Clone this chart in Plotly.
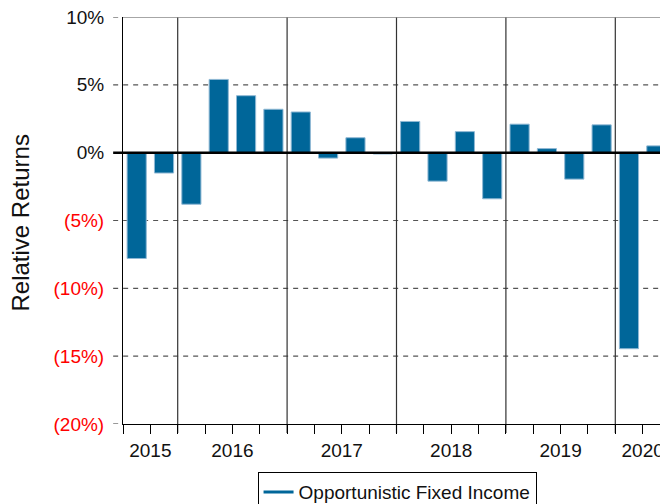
import plotly.graph_objects as go

quarters = ["2015Q3", "2015Q4",
            "2016Q1", "2016Q2", "2016Q3", "2016Q4",
            "2017Q1", "2017Q2", "2017Q3", "2017Q4",
            "2018Q1", "2018Q2", "2018Q3", "2018Q4",
            "2019Q1", "2019Q2", "2019Q3", "2019Q4",
            "2020Q1", "2020Q2"]
returns = [-7.8, -1.5,
           -3.8, 5.4, 4.2, 3.2,
           3.0, -0.4, 1.1, -0.1,
           2.3, -2.1, 1.55, -3.4,
           2.1, 0.3, -1.95, 2.05,
           -14.45, 0.5]
years = ["2015", "2016", "2017", "2018", "2019", "2020"]
ytick_vals = [10, 5, 0, -5, -10, -15, -20]
ytick_text = ["10%", "5%", "0%", "(5%)", "(10%)", "(15%)", "(20%)"]
series_name = "Opportunistic Fixed Income"

BAR = "#006699"
xs = list(range(len(quarters)))
year_of = [q[:4] for q in quarters]

# year centres and boundaries
year_centers, year_bounds = [], []
for y in years:
    idx = [i for i, yy in enumerate(year_of) if yy == y]
    year_centers.append((idx[0] + idx[-1]) / 2)
    if idx[0] > 0:
        year_bounds.append(idx[0] - 0.5)

fig = go.Figure()
fig.add_trace(go.Bar(
    x=xs, y=returns, width=0.7,
    marker=dict(color=BAR, line=dict(color="#8fb8d4", width=1)),
    showlegend=False, name=series_name,
))
fig.add_trace(go.Scatter(
    x=[None], y=[None], mode="lines",
    line=dict(color=BAR, width=3), name=series_name, showlegend=True,
))

shapes = []
# dashed gridlines (extending left as tick marks)
for v in ytick_vals:
    if v in (0, 10, -20):
        continue
    shapes.append(dict(type="line", xref="paper", yref="y", x0=-0.018, x1=1,
                       y0=v, y1=v, line=dict(color="#555555", width=1.2, dash="5px,5px"),
                       layer="below"))
# short dashed ticks at top and bottom
for v in (10, -20):
    shapes.append(dict(type="line", xref="paper", yref="y", x0=-0.018, x1=0,
                       y0=v, y1=v, line=dict(color="#555555", width=1.2, dash="5px,5px")))
# top frame line
shapes.append(dict(type="line", xref="paper", yref="y", x0=0, x1=1, y0=10, y1=10,
                   line=dict(color="#888888", width=1.5)))
# year separators
for b in year_bounds:
    shapes.append(dict(type="line", xref="x", yref="paper", x0=b, x1=b, y0=-0.022, y1=1,
                       line=dict(color="#333333", width=1.2), layer="below"))
# zero line
shapes.append(dict(type="line", xref="paper", yref="y", x0=-0.018, x1=1, y0=0, y1=0,
                   line=dict(color="black", width=2.5), layer="above"))

ticktext = [t if v >= 0 else '<span style="color:red">%s</span>' % t
            for v, t in zip(ytick_vals, ytick_text)]

fig.update_layout(
    width=668, height=504,
    margin=dict(l=115, r=6, t=9, b=88, autoexpand=False),
    paper_bgcolor="white", plot_bgcolor="white",
    font=dict(family="Liberation Sans, Arial, sans-serif", size=19, color="#111111"),
    bargap=0.3,
    xaxis=dict(
        range=[-0.5, 19.5], automargin=False, ticklabeloverflow="allow",
        tickmode="array", tickvals=year_centers, ticktext=years,
        ticks="outside", ticklen=9, tickcolor="black", tickwidth=1,
        minor=dict(tickmode="linear", tick0=-0.5, dtick=1, ticks="outside",
                   ticklen=9, tickcolor="black", tickwidth=1, showgrid=False),
        showline=True, linecolor="black", linewidth=1,
        showgrid=False, zeroline=False,
        tickfont=dict(size=19),
    ),
    yaxis=dict(
        range=[-20, 10], automargin=False, ticklabeloverflow="allow",
        tickmode="array", tickvals=ytick_vals, ticktext=ticktext,
        ticks="outside", ticklen=14, tickcolor="rgba(0,0,0,0)",
        showline=True, linecolor="black", linewidth=1,
        showgrid=False, zeroline=False,
        tickfont=dict(size=19),
    ),
    shapes=shapes,
    annotations=[dict(text="Relative Returns", textangle=-90, xref="paper", yref="paper",
                      x=-0.188, y=0.493, xanchor="center", yanchor="middle",
                      showarrow=False, font=dict(size=24, color="#111111"))],
    legend=dict(orientation="h", x=0.501, xanchor="center", y=-0.118, yanchor="top",
                bordercolor="black", borderwidth=1, bgcolor="white",
                font=dict(size=19)),
)

fig.write_html("out.html")
